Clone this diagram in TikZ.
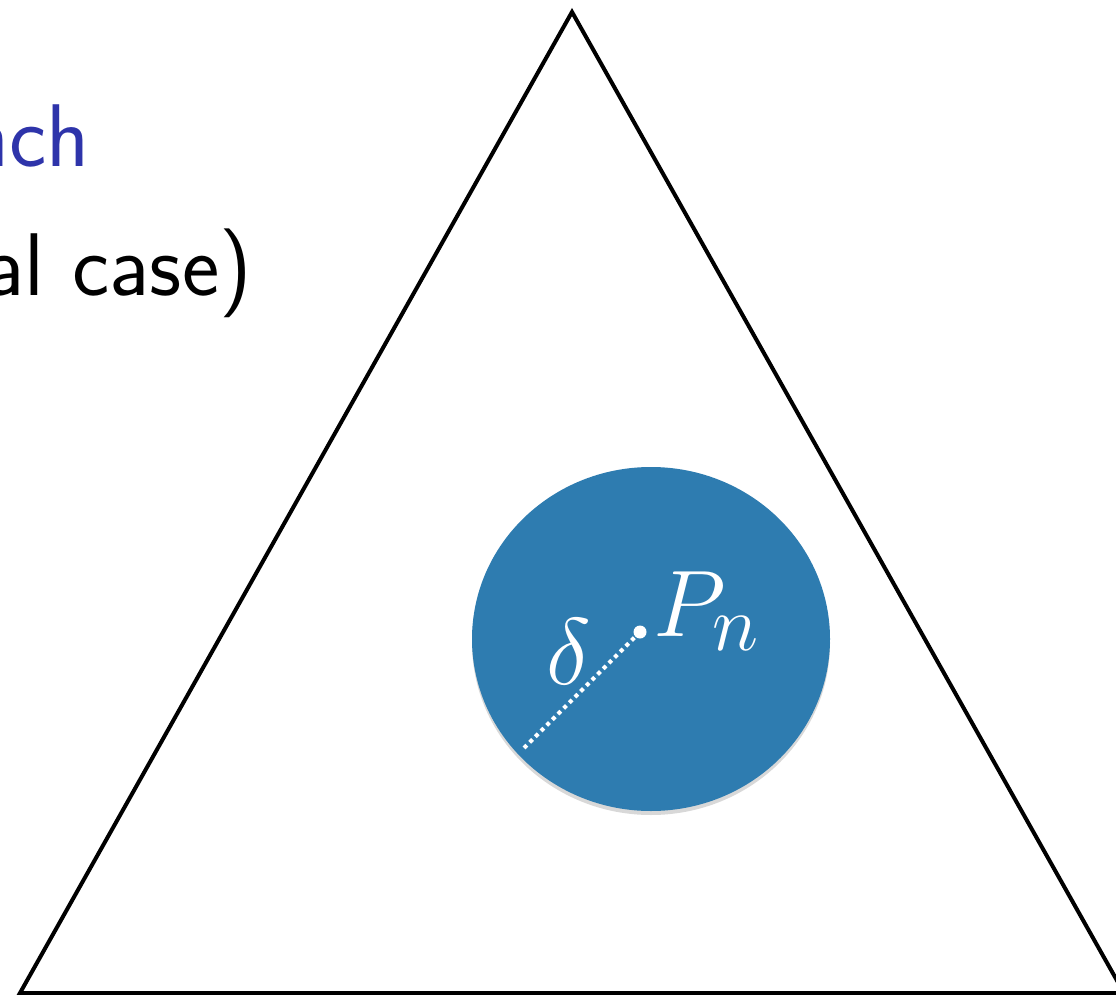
\documentclass[tikz,border=0pt]{standalone}
\usepackage{graphicx}
\usetikzlibrary{shapes.geometric,shadows}
\definecolor{discblue}{RGB}{46,124,176}
\definecolor{titleblue}{RGB}{46,52,170}
\newcommand{\hugemathlbl}[1]{\scalebox{3.8}{$#1$}}
\begin{document}
\begin{tikzpicture}[x=1pt,y=-1pt,
  bigsans/.style={font=\sffamily\fontsize{89}{100}\selectfont, inner sep=0pt},
  bigmath/.style={font=\Huge, inner sep=0pt, text=white},
  edge/.style={line width=4pt, line join=miter, black}]
\useasboundingbox (0,0) rectangle (1116,995);
\clip (0,0) rectangle (1116,995);
\fill[white] (0,0) rectangle (1116,995);
% text
\node[bigsans, anchor=base east, text=titleblue] (t1) at (90,167) {nch};
\node[bigsans, anchor=base east, text=black] (t2) at (252,295) {al case)};
% triangle
\coordinate (A) at (572,12);
\coordinate (B) at (20,993);
\coordinate (C) at (1124,993);
\draw[edge] (A) -- (B) -- (C) -- cycle;
% disc
\node[ellipse, minimum width=358pt, minimum height=344pt, inner sep=0pt, fill=discblue,
  drop shadow={shadow xshift=0pt, shadow yshift=-4pt, opacity=0.25, fill=black!60}] (disc) at (651,639) {};
\node[circle, fill=white, inner sep=0pt, minimum size=13pt] (pn) at (640,632) {};
\coordinate (dend) at (522,750);
\draw[white, line width=4pt, dash pattern=on 4pt off 4pt] (pn.center) -- (dend);
\node[bigmath, anchor=base west] (lbl) at (653,636) {\hugemathlbl{P_n}};
\node[bigmath, anchor=base west] (dlt) at (546,684) {\hugemathlbl{\delta}};
\end{tikzpicture}
\end{document}
